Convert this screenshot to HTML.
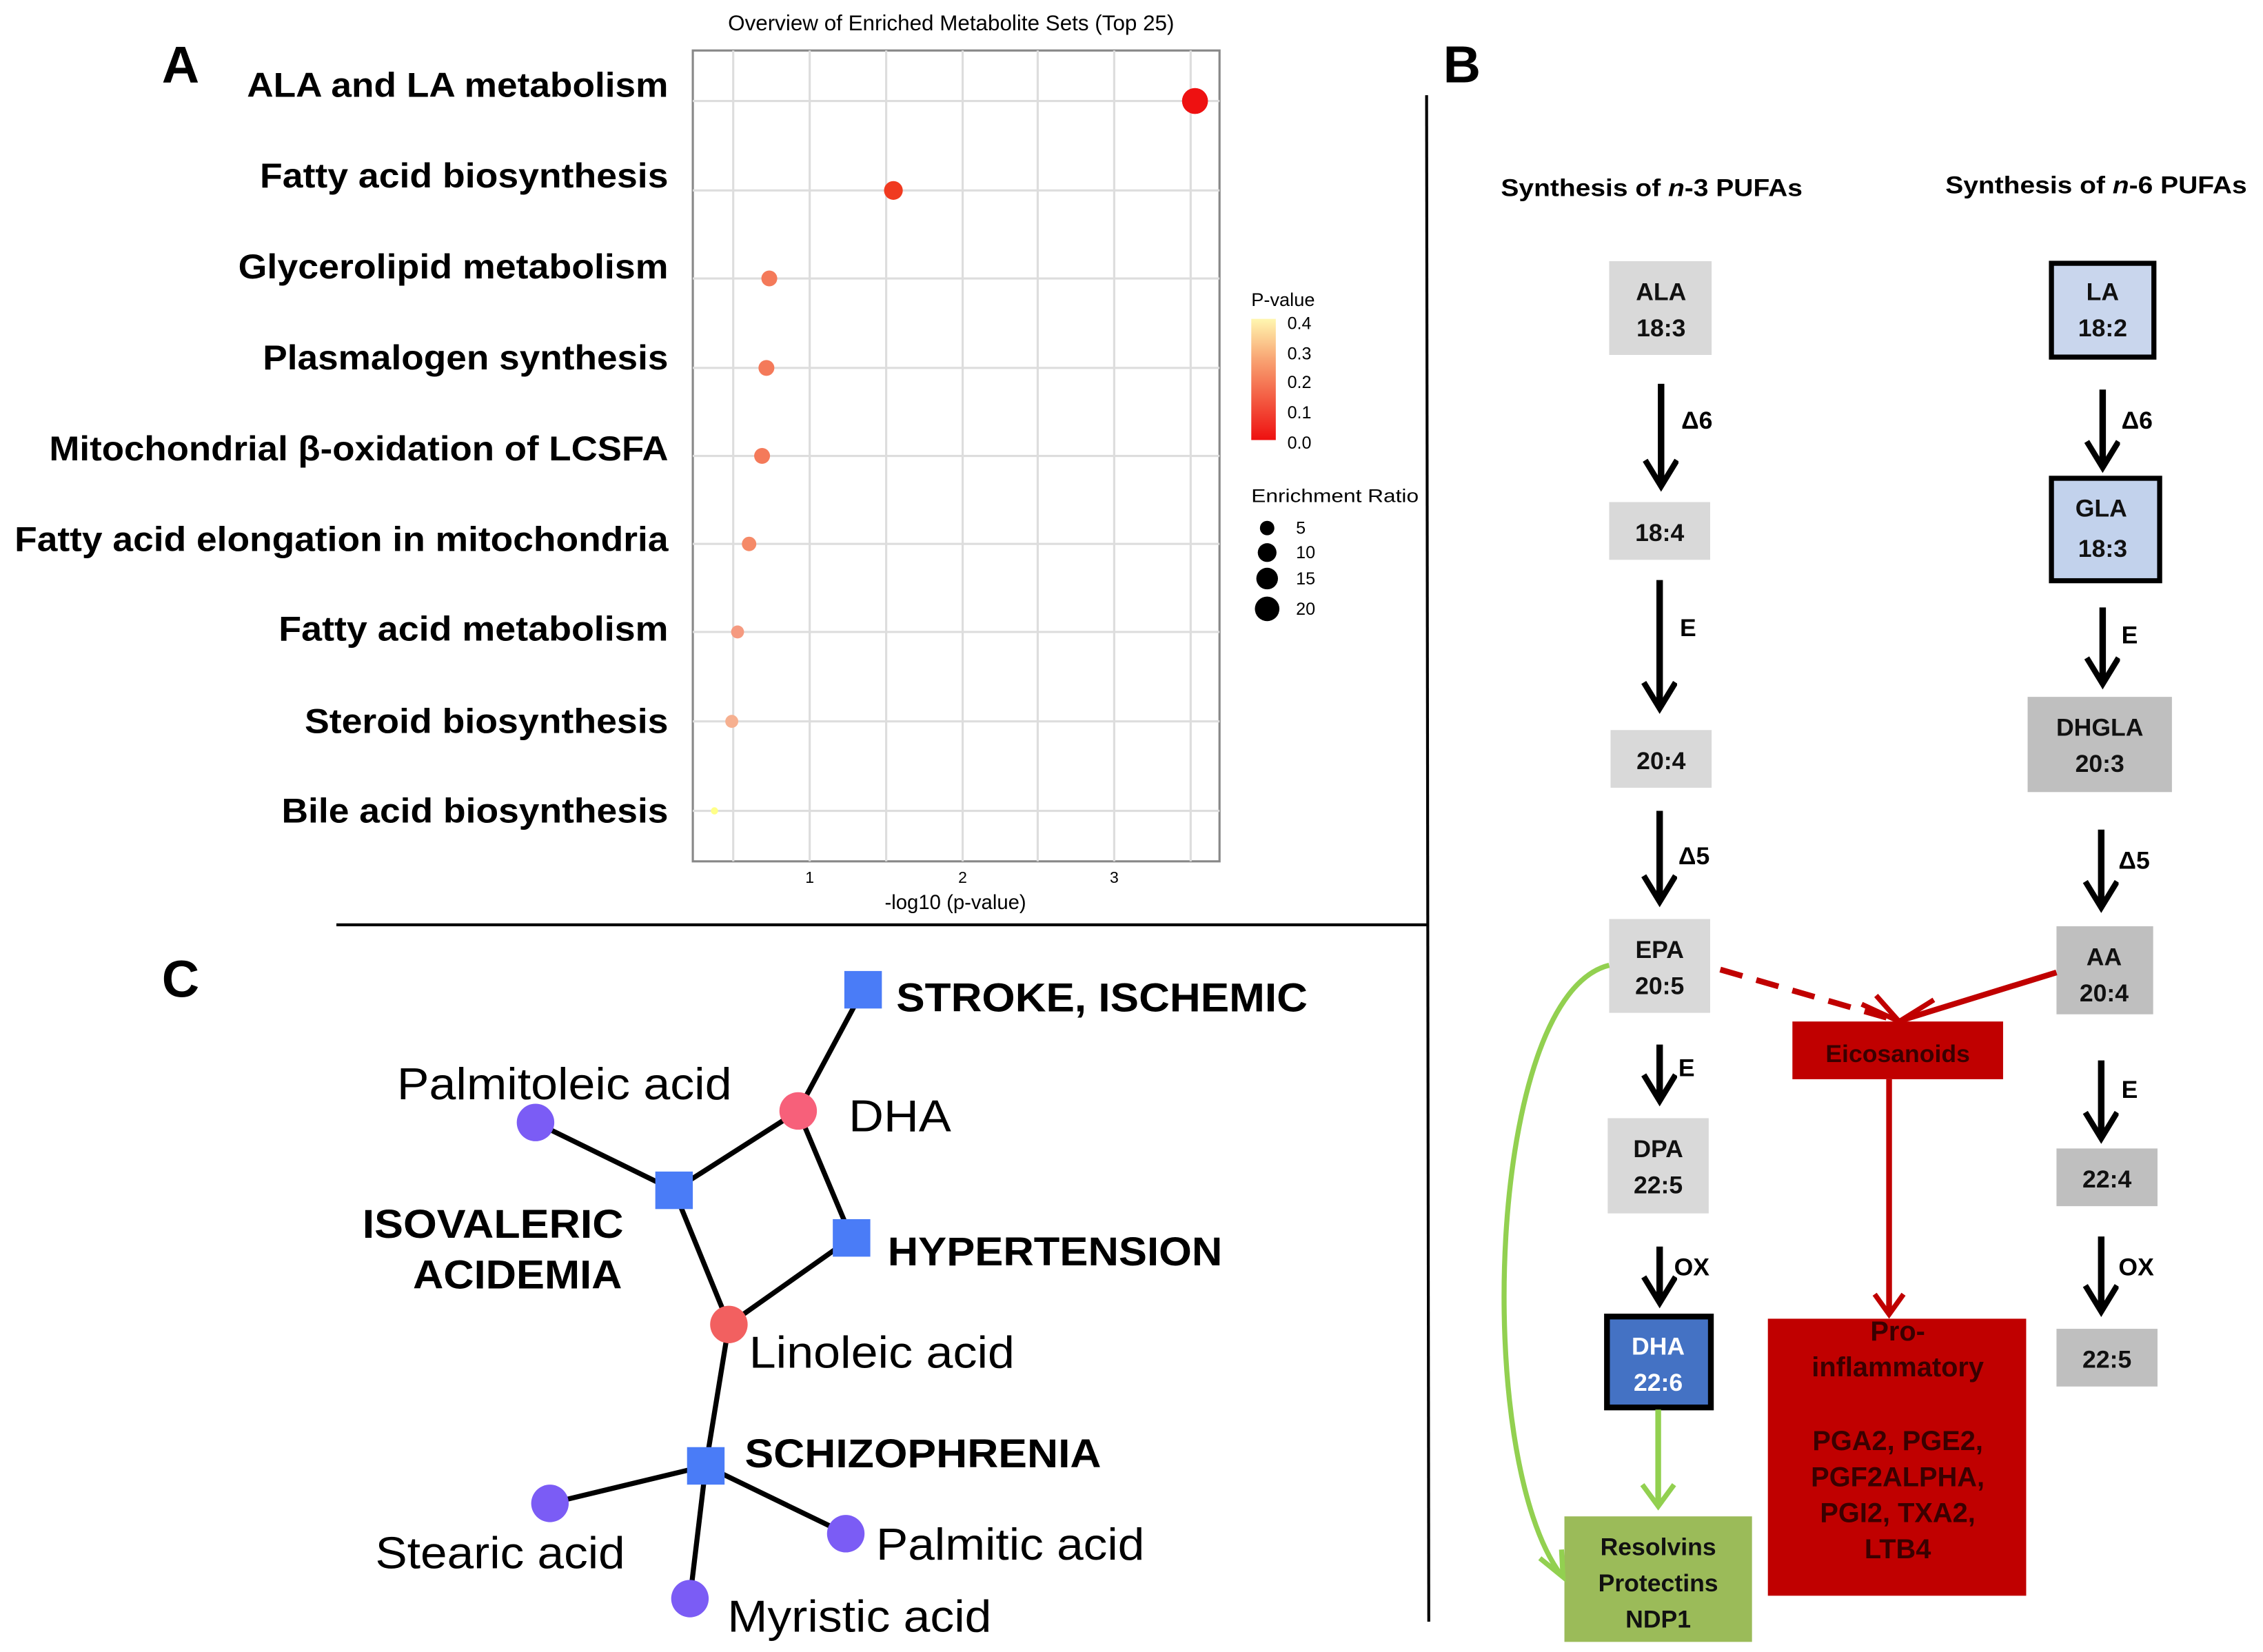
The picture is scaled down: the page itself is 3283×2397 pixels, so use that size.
<!DOCTYPE html>
<html><head><meta charset="utf-8"><style>
html,body{margin:0;padding:0;background:#fff;}
svg{display:block;}
text{font-family:"Liberation Sans",Arial,sans-serif;}
</style></head><body>
<svg width="3283" height="2397" viewBox="0 0 1568 1145" xmlns="http://www.w3.org/2000/svg">
<defs>
<linearGradient id="pg" x1="0" y1="0" x2="0" y2="1">
<stop offset="0" stop-color="#fff7b0"/><stop offset="0.35" stop-color="#f8a070"/><stop offset="1" stop-color="#ee1010"/>
</linearGradient>
<marker id="ak" markerWidth="26" markerHeight="26" refX="20" refY="12" orient="auto" markerUnits="userSpaceOnUse"><path d="M2,1 L20,12 L2,23" fill="none" stroke="#000" stroke-width="4"/></marker>
</defs>
<!-- Panel A -->
<text x="112" y="57" font-size="36" font-weight="bold">A</text>
<text x="659" y="21" font-size="15" text-anchor="middle">Overview of Enriched Metabolite Sets (Top 25)</text>
<rect x="480" y="35" width="365" height="562" fill="#fff" stroke="#888" stroke-width="1.5"/>
<g stroke="#ddd" stroke-width="1.5">
<line x1="508" y1="35" x2="508" y2="597"/><line x1="561" y1="35" x2="561" y2="597"/><line x1="614" y1="35" x2="614" y2="597"/><line x1="667" y1="35" x2="667" y2="597"/><line x1="719" y1="35" x2="719" y2="597"/><line x1="772" y1="35" x2="772" y2="597"/><line x1="825" y1="35" x2="825" y2="597"/>
<line x1="480" y1="70" x2="845" y2="70"/><line x1="480" y1="132" x2="845" y2="132"/><line x1="480" y1="193" x2="845" y2="193"/><line x1="480" y1="255" x2="845" y2="255"/><line x1="480" y1="316" x2="845" y2="316"/><line x1="480" y1="377" x2="845" y2="377"/><line x1="480" y1="438" x2="845" y2="438"/><line x1="480" y1="500" x2="845" y2="500"/><line x1="480" y1="562" x2="845" y2="562"/>
</g>
<circle cx="828" cy="70" r="9" fill="#ee1111"/>
<circle cx="619" cy="132" r="6.5" fill="#f03a20"/>
<circle cx="533" cy="193" r="5.5" fill="#f47a5a"/>
<circle cx="531" cy="255" r="5.5" fill="#f47a5a"/>
<circle cx="528" cy="316" r="5.5" fill="#f47a5a"/>
<circle cx="519" cy="377" r="5" fill="#f58a68"/>
<circle cx="511" cy="438" r="4.5" fill="#f59a80"/>
<circle cx="507" cy="500" r="4.5" fill="#f6b090"/>
<circle cx="495" cy="562" r="2.5" fill="#ffff88"/>
<g font-size="24" font-weight="bold" lengthAdjust="spacingAndGlyphs">
<text x="171" y="67" textLength="292" lengthAdjust="spacingAndGlyphs">ALA and LA metabolism</text>
<text x="180" y="130" textLength="283" lengthAdjust="spacingAndGlyphs">Fatty acid biosynthesis</text>
<text x="165" y="193" textLength="298" lengthAdjust="spacingAndGlyphs">Glycerolipid metabolism</text>
<text x="182" y="256" textLength="281" lengthAdjust="spacingAndGlyphs">Plasmalogen synthesis</text>
<text x="34" y="319" textLength="429" lengthAdjust="spacingAndGlyphs">Mitochondrial β-oxidation of LCSFA</text>
<text x="10" y="382" textLength="453" lengthAdjust="spacingAndGlyphs">Fatty acid elongation in mitochondria</text>
<text x="193" y="444" textLength="270" lengthAdjust="spacingAndGlyphs">Fatty acid metabolism</text>
<text x="211" y="508" textLength="252" lengthAdjust="spacingAndGlyphs">Steroid biosynthesis</text>
<text x="195" y="570" textLength="268" lengthAdjust="spacingAndGlyphs">Bile acid biosynthesis</text>
</g>
<g font-size="11" text-anchor="middle"><text x="561" y="612">1</text><text x="667" y="612">2</text><text x="772" y="612">3</text></g>
<text x="662" y="630" font-size="14" text-anchor="middle">-log10 (p-value)</text>
<text x="867" y="212" font-size="13">P-value</text>
<rect x="867" y="221" width="17" height="84" fill="url(#pg)"/>
<g font-size="12"><text x="892" y="228">0.4</text><text x="892" y="249">0.3</text><text x="892" y="269">0.2</text><text x="892" y="290">0.1</text><text x="892" y="311">0.0</text></g>
<text x="867" y="348" font-size="13" textLength="116" lengthAdjust="spacingAndGlyphs">Enrichment Ratio</text>
<circle cx="878" cy="366" r="5"/><circle cx="878" cy="383" r="6.5"/><circle cx="878" cy="401" r="7.5"/><circle cx="878" cy="422" r="8.5"/>
<g font-size="12"><text x="898" y="370">5</text><text x="898" y="387">10</text><text x="898" y="405">15</text><text x="898" y="426">20</text></g>
<!-- separators -->
<line x1="233" y1="641" x2="989" y2="641" stroke="#000" stroke-width="2"/>
<line x1="988.5" y1="66" x2="990" y2="1124" stroke="#000" stroke-width="2"/>
<!-- Panel B -->
<text x="1000" y="57" font-size="36" font-weight="bold">B</text>
<g font-size="17" font-weight="bold">
<text x="1040" y="136" textLength="209" lengthAdjust="spacingAndGlyphs">Synthesis of <tspan font-style="italic">n</tspan>-3 PUFAs</text>
<text x="1348" y="134" textLength="209" lengthAdjust="spacingAndGlyphs">Synthesis of <tspan font-style="italic">n</tspan>-6 PUFAs</text>
</g>
<g fill="#d9d9d9">
<rect x="1115" y="181" width="71" height="65"/>
<rect x="1115" y="348" width="70" height="40"/>
<rect x="1116" y="506" width="70" height="40"/>
<rect x="1115" y="637" width="70" height="65"/>
<rect x="1114" y="775" width="70" height="66"/>
</g>
<g fill="#bfbfbf">
<rect x="1405" y="483" width="100" height="66"/>
<rect x="1425" y="642" width="67" height="61"/>
<rect x="1425" y="796" width="70" height="40"/>
<rect x="1425" y="921" width="70" height="40"/>
</g>
<rect x="1421.5" y="182.5" width="71" height="65" fill="#c9d6ed" stroke="#000" stroke-width="3.5"/>
<rect x="1421.5" y="331.5" width="75" height="71" fill="#c2d2ec" stroke="#000" stroke-width="3.5"/>
<rect x="1113.5" y="912.5" width="72" height="63" fill="#4472c4" stroke="#000" stroke-width="4"/>
<rect x="1084" y="1051" width="130" height="87" fill="#9bbb59"/>
<rect x="1242" y="708" width="146" height="40" fill="#c00000"/>
<rect x="1225" y="914" width="179" height="192" fill="#c00000"/>
<g stroke="#000" stroke-width="4.5" marker-end="url(#ak)" fill="none">
<line x1="1151" y1="266" x2="1151" y2="337"/>
<line x1="1150" y1="402" x2="1150" y2="491"/>
<line x1="1150" y1="562" x2="1150" y2="625"/>
<line x1="1150" y1="724" x2="1150" y2="763"/>
<line x1="1150" y1="864" x2="1150" y2="903"/>
<line x1="1457" y1="270" x2="1457" y2="324"/>
<line x1="1457" y1="421" x2="1457" y2="474"/>
<line x1="1456" y1="575" x2="1456" y2="629"/>
<line x1="1456" y1="735" x2="1456" y2="789"/>
<line x1="1456" y1="857" x2="1456" y2="909"/>
</g>
<g font-size="17" font-weight="bold">
<text x="1165" y="297">Δ6</text><text x="1164" y="441">E</text><text x="1163" y="599">Δ5</text><text x="1163" y="746">E</text><text x="1160" y="884">OX</text>
<text x="1470" y="297">Δ6</text><text x="1470" y="446">E</text><text x="1468" y="602">Δ5</text><text x="1470" y="761">E</text><text x="1468" y="884">OX</text>
</g>
<g font-size="17" font-weight="bold" text-anchor="middle" fill="#111">
<text x="1151" y="208">ALA</text><text x="1151" y="233">18:3</text>
<text x="1150" y="375">18:4</text>
<text x="1151" y="533">20:4</text>
<text x="1150" y="664">EPA</text><text x="1150" y="689">20:5</text>
<text x="1149" y="802">DPA</text><text x="1149" y="827">22:5</text>
<text x="1457" y="208">LA</text><text x="1457" y="233">18:2</text>
<text x="1456" y="358">GLA</text><text x="1457" y="386">18:3</text>
<text x="1455" y="510">DHGLA</text><text x="1455" y="535">20:3</text>
<text x="1458" y="669">AA</text><text x="1458" y="694">20:4</text>
<text x="1460" y="823">22:4</text>
<text x="1460" y="948">22:5</text>
<text x="1149" y="939" fill="#fff">DHA</text><text x="1149" y="964" fill="#fff">22:6</text>
<text x="1149" y="1078">Resolvins</text><text x="1149" y="1103">Protectins</text><text x="1149" y="1128">NDP1</text>
<text x="1315" y="736" fill="#3a0000">Eicosanoids</text>
</g>
<g font-size="19" font-weight="bold" text-anchor="middle" fill="#3a0000">
<text x="1315" y="929">Pro-</text><text x="1315" y="954">inflammatory</text>
<text x="1315" y="1005">PGA2, PGE2,</text><text x="1315" y="1030">PGF2ALPHA,</text><text x="1315" y="1055">PGI2, TXA2,</text><text x="1315" y="1080">LTB4</text>
</g>
<!-- red connectors -->
<line x1="1192" y1="672" x2="1313" y2="707" stroke="#c00000" stroke-width="4" stroke-dasharray="16,10"/>
<line x1="1425" y1="674" x2="1318" y2="707" stroke="#c00000" stroke-width="4"/>
<path d="M1290,696 L1316,708 L1300,690 M1340,693 L1316,708" stroke="#c00000" stroke-width="3.5" fill="none"/>
<line x1="1309" y1="748" x2="1309" y2="910" stroke="#c00000" stroke-width="4"/>
<path d="M1299,897 L1309,911 L1319,897" stroke="#c00000" stroke-width="3.5" fill="none"/>
<!-- green -->
<line x1="1149" y1="977" x2="1149" y2="1042" stroke="#92d050" stroke-width="4"/>
<path d="M1138,1029 L1149,1044 L1160,1029" stroke="#92d050" stroke-width="3.5" fill="none"/>
<path d="M1115,669 C1030,690 1020,1010 1082,1092" stroke="#92d050" stroke-width="3.5" fill="none"/>
<path d="M1067,1080 L1083,1093 L1082,1074" stroke="#92d050" stroke-width="3.5" fill="none"/>
<!-- Panel C -->
<text x="112" y="691" font-size="36" font-weight="bold">C</text>
<g stroke="#000" stroke-width="3.5">
<line x1="598" y1="686" x2="553" y2="770"/>
<line x1="553" y1="770" x2="467" y2="825"/>
<line x1="467" y1="825" x2="371" y2="778"/>
<line x1="553" y1="770" x2="590" y2="858"/>
<line x1="590" y1="858" x2="505" y2="918"/>
<line x1="467" y1="825" x2="505" y2="918"/>
<line x1="505" y1="918" x2="489" y2="1016"/>
<line x1="489" y1="1016" x2="381" y2="1042"/>
<line x1="489" y1="1016" x2="586" y2="1063"/>
<line x1="489" y1="1016" x2="478" y2="1108"/>
</g>
<g fill="#4a7cf7">
<rect x="585" y="673" width="26" height="26"/>
<rect x="454" y="812" width="26" height="26"/>
<rect x="577" y="845" width="26" height="26"/>
<rect x="476" y="1003" width="26" height="26"/>
</g>
<circle cx="553" cy="770" r="13" fill="#f7607a"/>
<circle cx="505" cy="918" r="13" fill="#f26060"/>
<g fill="#7b5cf5">
<circle cx="371" cy="778" r="13"/><circle cx="381" cy="1042" r="13"/><circle cx="586" cy="1063" r="13"/><circle cx="478" cy="1108" r="13"/>
</g>
<g font-size="28" font-weight="bold">
<text x="621" y="701" textLength="285" lengthAdjust="spacingAndGlyphs">STROKE, ISCHEMIC</text>
<text x="615" y="877" textLength="232" lengthAdjust="spacingAndGlyphs">HYPERTENSION</text>
<text x="516" y="1017" textLength="247" lengthAdjust="spacingAndGlyphs">SCHIZOPHRENIA</text>
<text x="251" y="858" textLength="181" lengthAdjust="spacingAndGlyphs">ISOVALERIC</text>
<text x="286" y="893" textLength="145" lengthAdjust="spacingAndGlyphs">ACIDEMIA</text>
</g>
<g font-size="31">
<text x="275" y="762" textLength="232" lengthAdjust="spacingAndGlyphs">Palmitoleic acid</text>
<text x="588" y="784" textLength="71" lengthAdjust="spacingAndGlyphs">DHA</text>
<text x="519" y="948" textLength="184" lengthAdjust="spacingAndGlyphs">Linoleic acid</text>
<text x="260" y="1087" textLength="173" lengthAdjust="spacingAndGlyphs">Stearic acid</text>
<text x="607" y="1081" textLength="186" lengthAdjust="spacingAndGlyphs">Palmitic acid</text>
<text x="504" y="1131" textLength="183" lengthAdjust="spacingAndGlyphs">Myristic acid</text>
</g>
</svg>
</body></html>
